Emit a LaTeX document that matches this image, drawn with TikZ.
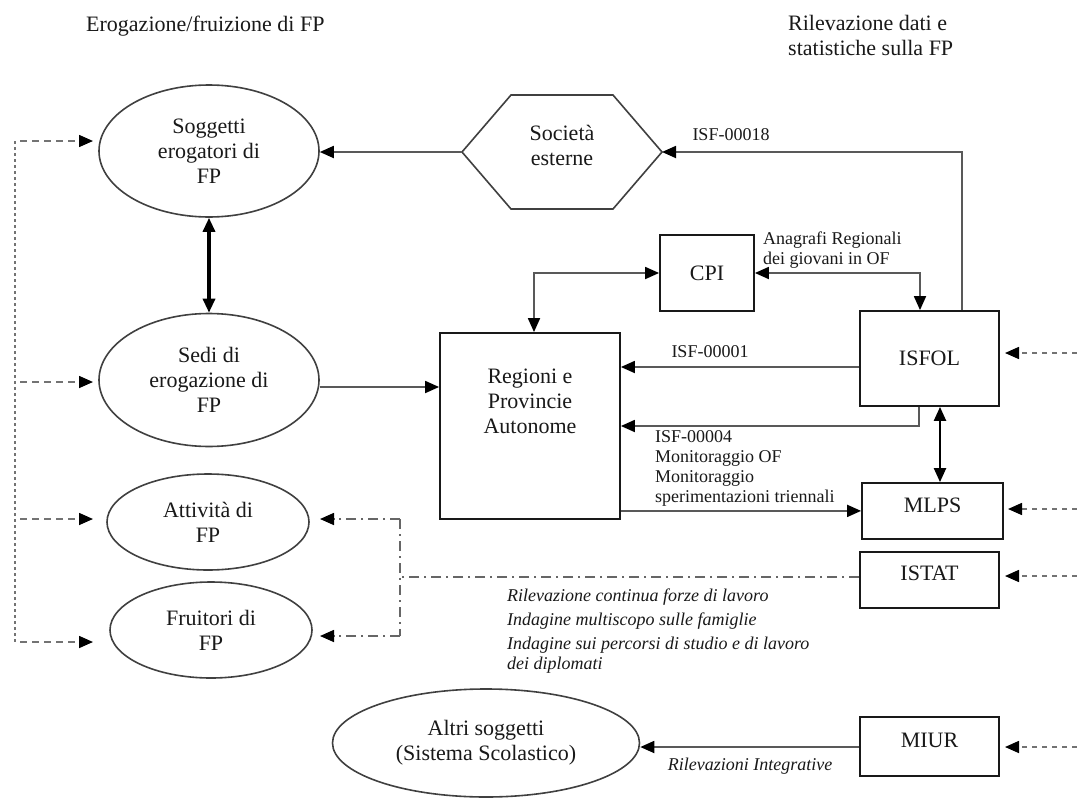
\documentclass[tikz,border=0pt]{standalone}
\usepackage{fontspec}
\setmainfont{Liberation Serif}
\usetikzlibrary{arrows.meta,calc,shapes.geometric}
\begin{document}
\begin{tikzpicture}[x=1pt,y=-1pt,
 >={Triangle[length=14pt,width=12pt,color=black]},
 every node/.style={inner sep=0pt, text=black!90},
 big/.style={font=\fontsize{22}{25}\selectfont, align=center},
 lab/.style={font=\fontsize{18}{20}\selectfont, align=left},
 ital/.style={font=\fontsize{18}{20}\selectfont\itshape, align=left},
 ell/.style={ellipse, draw=black!75, line width=1.6pt, big},
 box/.style={rectangle, draw=black!90, line width=1.8pt},
 conn/.style={draw=black!65, line width=1.8pt},
 thickarr/.style={draw=black, line width=3.2pt},
 medarr/.style={draw=black, line width=2.2pt},
 ldashv/.style={draw=black!55, line width=1.4pt, dash pattern=on 3pt off 3pt},
 ldashh/.style={draw=black!55, line width=1.6pt, dash pattern=on 7pt off 5pt},
 rdash/.style={draw=black!55, line width=1.6pt, dash pattern=on 5pt off 5pt},
 dashdot/.style={draw=black!60, line width=1.6pt, dash pattern=on 10pt off 5pt on 2pt off 5pt},
]
\fill[white] (0,0) rectangle (1077,798);
\useasboundingbox (0,0) rectangle (1077,798);

% titles
\node[big, anchor=west] (t1) at (86,26) {Erogazione/fruizione di FP};
\node[big, anchor=west, align=left] (t2) at (788,35) {Rilevazione dati e\\statistiche sulla FP};

% ellipses
\node[ell, minimum width=220pt, minimum height=132pt] (ell1) at (209,151) {Soggetti\\erogatori di\\FP};
\node[ell, minimum width=220pt, minimum height=133pt] (ell2) at (209,380) {Sedi di\\erogazione di\\FP};
\node[ell, minimum width=202pt, minimum height=96pt] (ell3) at (208,522) {Attività di\\FP};
\node[ell, minimum width=202pt, minimum height=96pt] (ell4) at (211,630) {Fruitori di\\FP};
\node[ell, minimum width=307pt, minimum height=108pt] (ell5) at (486,743) {Altri soggetti\\(Sistema Scolastico)};

% hexagon
\coordinate (hexW) at (462,152);
\coordinate (hexE) at (662,152);
\draw[draw=black!75, line width=1.6pt] (hexW) -- (511,95) -- (613,95) -- (hexE) -- (613,209) -- (511,209) -- cycle;
\node[big] (hex) at (562,145) {Società\\esterne};

% boxes
\node[box, minimum width=94pt, minimum height=76pt, big] (cpi) at (707,273) {CPI};
\node[box, minimum width=139pt, minimum height=95pt, big] (isfol) at (929.5,358.5) {ISFOL};
\node[box, minimum width=180pt, minimum height=186pt] (reg) at (530,426) {};
\node[big] (regtxt) at (530,401) {Regioni e\\Provincie\\Autonome};
\node[box, minimum width=141pt, minimum height=56pt] (mlps) at (932.5,511) {};
\node[big] (mlpstxt) at (932.5,505) {MLPS};
\node[box, minimum width=139pt, minimum height=56pt] (istat) at (929.5,580) {};
\node[big] (istattxt) at (929.5,573) {ISTAT};
\node[box, minimum width=139pt, minimum height=59pt] (miur) at (929.5,746.5) {};
\node[big] (miurtxt) at (929.5,740) {MIUR};

% connectors
\draw[conn,->] (hexW) -- (hexW -| ell1.east);
\draw[conn,->] ([xshift=32.5pt]isfol.north) |- (hexE);
\node[lab] (l18) at (731,135) {ISF-00018};

\draw[conn,<->] (cpi.west) -| ([xshift=4pt]reg.north);
\draw[conn,<->] (cpi.east) -| ([xshift=-9.5pt]isfol.north);
\node[lab, anchor=west] (lana) at (763,250) {Anagrafi Regionali\\dei giovani in OF};

\draw[conn,->] ([yshift=-8.5pt]isfol.west) coordinate (a1) -- (a1 -| reg.east);
\node[lab] (l01) at (710,352) {ISF-00001};

\draw[conn,->] ([xshift=-10.5pt]isfol.south) |- (reg.east);
\node[lab, anchor=west] (l04) at (655,468) {ISF-00004\\Monitoraggio OF\\Monitoraggio\\sperimentazioni triennali};

\draw[conn,->] ([yshift=9pt]reg.south east) coordinate (a3) -- (a3 -| mlps.west);
\draw[medarr,<->] ([xshift=10.5pt]isfol.south) coordinate (a4) -- (a4 |- mlps.north);

\draw[thickarr,<->] (ell1.south) -- (ell2.north);
\draw[conn,->] ([yshift=-7pt]ell2.east) coordinate (a5) -- (a5 -| reg.west);

% ISTAT dash-dot
\coordinate (dj) at (400,577);
\coordinate (dt) at (400,519);
\coordinate (db) at (400,636);
\coordinate (dte) at (320,519);
\coordinate (dbe) at (320,636);
\draw[dashdot] ([yshift=3pt]istat.west) -- (dj);
\draw[dashdot] (dt) -- (db);
\draw[dashdot,->] (dt) -- (dte);
\draw[dashdot,->] (db) -- (dbe);
\node[ital, anchor=west] (lit) at (507,631) {Rilevazione continua forze di lavoro\\[4pt]Indagine multiscopo sulle famiglie\\[4pt]Indagine sui percorsi di studio e di lavoro\\dei diplomati};

% MIUR
\draw[conn,->] ([yshift=-0.5pt]miur.west) coordinate (a6) -- (a6 -| ell5.east);
\node[ital] (lri) at (750,766) {Rilevazioni Integrative};

% left dashed
\coordinate (L1) at (15,141);
\coordinate (L4) at (15,642);
\draw[ldashv] (L1) -- (L4);
\coordinate (la1) at (20,141); \coordinate (lb1) at (93,141);
\coordinate (la2) at (20,382); \coordinate (lb2) at (93,382);
\coordinate (la3) at (20,519); \coordinate (lb3) at (93,519);
\coordinate (la4) at (20,642); \coordinate (lb4) at (93,642);
\draw[ldashh,->] (la1) -- (lb1);
\draw[ldashh,->] (la2) -- (lb2);
\draw[ldashh,->] (la3) -- (lb3);
\draw[ldashh,->] (la4) -- (lb4);

% right dashed
\coordinate (ra1) at (1077,353); \coordinate (rb1) at (1005,353);
\coordinate (ra2) at (1077,509); \coordinate (rb2) at (1008,509);
\coordinate (ra3) at (1077,576); \coordinate (rb3) at (1005,576);
\coordinate (ra4) at (1077,747); \coordinate (rb4) at (1005,747);
\draw[rdash,->] (ra1) -- (rb1);
\draw[rdash,->] (ra2) -- (rb2);
\draw[rdash,->] (ra3) -- (rb3);
\draw[rdash,->] (ra4) -- (rb4);
\end{tikzpicture}
\end{document}
